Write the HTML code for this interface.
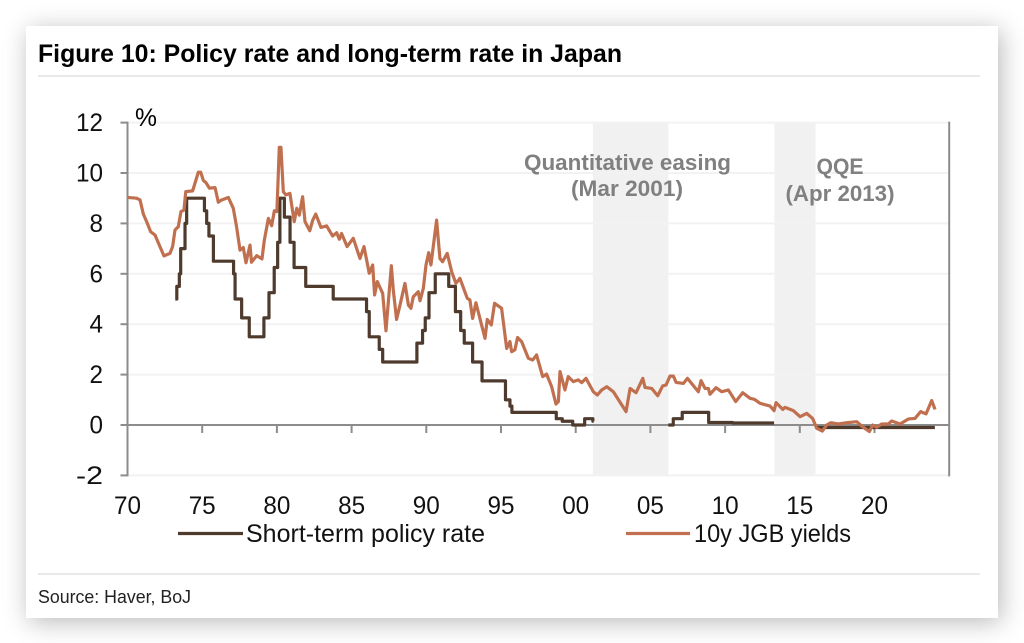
<!DOCTYPE html>
<html lang="en">
<head>
<meta charset="utf-8">
<title>Figure 10: Policy rate and long-term rate in Japan</title>
<style>
html,body{margin:0;padding:0;background:#fff;width:1024px;height:643px;overflow:hidden}
#card{position:absolute;left:26px;top:26px;width:972px;height:592px;background:#fff;box-shadow:3px 4px 24px rgba(0,0,0,.28)}
svg{position:absolute;left:0;top:0;font-family:"Liberation Sans",sans-serif}
</style>
</head>
<body>
<div id="card"></div>
<svg id="chart" width="1024" height="643" viewBox="0 0 1024 643">
  <text x="38" y="62" font-size="25" font-weight="700" fill="#000" textLength="584" lengthAdjust="spacingAndGlyphs">Figure 10: Policy rate and long-term rate in Japan</text>
  <line x1="38" y1="76" x2="980" y2="76" stroke="#e2e2e2" stroke-width="1.5"/>
  <g id="bands"></g>
  <g id="grid"></g>
  <g id="annotations" font-weight="700" font-size="22" fill="#808080" text-anchor="middle">
    <text x="627.5" y="170" textLength="207" lengthAdjust="spacingAndGlyphs">Quantitative easing</text>
    <text x="627" y="196" textLength="112" lengthAdjust="spacingAndGlyphs">(Mar 2001)</text>
    <text x="840" y="174" textLength="47" lengthAdjust="spacingAndGlyphs">QQE</text>
    <text x="840" y="201" textLength="109" lengthAdjust="spacingAndGlyphs">(Apr 2013)</text>
  </g>
  <g id="axes"></g>
  <g id="series"></g>
  <text x="135" y="126" font-size="25" fill="#000" textLength="22" lengthAdjust="spacingAndGlyphs">%</text>
  <g id="legend" font-size="25" fill="#111">
    <line x1="178" y1="533.5" x2="243" y2="533.5" stroke="#4f3b2e" stroke-width="3.2"/>
    <text x="246" y="542" textLength="239" lengthAdjust="spacingAndGlyphs">Short-term policy rate</text>
    <line x1="626" y1="533.5" x2="690" y2="533.5" stroke="#c1704f" stroke-width="3.2"/>
    <text x="694" y="542" textLength="157" lengthAdjust="spacingAndGlyphs">10y JGB yields</text>
  </g>
  <line x1="38" y1="574" x2="980" y2="574" stroke="#e2e2e2" stroke-width="1.5"/>
  <text x="38" y="603" font-size="18" fill="#222" textLength="153" lengthAdjust="spacingAndGlyphs">Source: Haver, BoJ</text>
</svg>
<script>
const yTicks = [12, 10, 8, 6, 4, 2, 0, -2];
const xTickYears = [1970, 1975, 1980, 1985, 1990, 1995, 2000, 2005, 2010, 2015, 2020];
const xTickLabels = ['70', '75', '80', '85', '90', '95', '00', '05', '10', '15', '20'];
const bandStarts = [2001.15, 2013.3];
const bandEnds = [2006.2, 2016.05];

const policyDates = [1973.2,1973.3,1973.47,1973.56,1973.85,1973.96,1975.15,1975.3,1975.45,1975.75,1977.1,1977.2,1977.64,1978.15,1979.13,1979.47,1979.82,1980.05,1980.2,1980.5,1980.88,1981.15,1981.93,1983.77,1986.0,1986.18,1986.85,1987.08,1989.37,1989.75,1989.93,1990.18,1990.6,1991.5,1991.95,1992.3,1992.54,1993.1,1993.73,1995.3,1995.6,1995.73,1998.7,1999.1,1999.8,2000.6,2001.15,2001.2,2006.2,2006.53,2007.13,2008.9,2010.5,2013.27,2013.28,2016.1,2024.04];
const policyRates = [5,5.5,6,7,8,9,8.5,8,7.5,6.5,6,5,4.25,3.5,4.25,5.25,6.25,7.25,9,8.25,7.25,6.25,5.5,5,4.5,3.5,3,2.5,3.25,3.75,4.25,5.25,6,5.5,4.5,3.75,3.25,2.5,1.75,1,0.75,0.5,0.25,0.15,0,0.25,0.15,null,0,0.25,0.5,0.1,0.08,0.08,null,-0.1,-0.1];

const yieldDates = [1970,1970.6,1970.84,1971.06,1971.28,1971.55,1971.84,1972.13,1972.44,1972.84,1973.02,1973.18,1973.4,1973.58,1973.78,1973.9,1974.36,1974.74,1974.9,1975.08,1975.25,1975.48,1975.86,1976.08,1976.3,1976.75,1977.08,1977.3,1977.53,1977.75,1977.93,1978.2,1978.3,1978.65,1979,1979.16,1979.43,1979.65,1979.83,1980,1980.16,1980.27,1980.43,1980.6,1980.87,1981.16,1981.33,1981.5,1981.72,1981.88,1982.2,1982.4,1982.6,1982.95,1983.33,1983.73,1984,1984.18,1984.33,1984.7,1985.11,1985.56,1985.83,1986.18,1986.41,1986.54,1986.72,1987.08,1987.3,1987.66,1987.79,1988.01,1988.24,1988.57,1988.8,1988.97,1989.13,1989.46,1989.58,1989.8,1989.98,1990.16,1990.31,1990.69,1990.91,1991.09,1991.4,1991.7,1991.98,1992.25,1992.74,1992.92,1993.1,1993.32,1993.93,1994.08,1994.35,1994.57,1995.04,1995.38,1995.6,1995.71,1995.93,1996.11,1996.38,1996.83,1997.12,1997.38,1997.79,1998.05,1998.39,1998.68,1998.84,1998.95,1999.28,1999.5,1999.84,2000.17,2000.4,2000.69,2001.18,2001.45,2001.74,2002.08,2002.52,2003.37,2003.64,2004.04,2004.49,2004.64,2005.09,2005.49,2005.82,2006.05,2006.31,2006.54,2006.72,2007.21,2007.48,2008.21,2008.39,2008.66,2008.88,2008.99,2009.39,2009.77,2010.22,2010.71,2011.18,2011.67,2011.96,2012.34,2013.01,2013.28,2013.41,2013.86,2014.01,2014.57,2015.02,2015.46,2015.86,2016.13,2016.51,2016.8,2017.07,2017.58,2018.14,2018.81,2019.14,2019.66,2019.88,2020.15,2020.48,2020.93,2021.15,2021.71,2022.27,2022.71,2023.09,2023.45,2023.83,2024.05];
const yieldValues = [9.03,9,8.93,8.37,8.07,7.67,7.54,7.14,6.71,6.81,7.08,7.74,7.87,8.47,8.53,9.26,9.29,10.03,10.03,9.7,9.62,9.4,9.42,8.84,8.93,9.03,8.6,7.87,6.94,7.04,6.44,7.14,6.46,6.72,6.59,7.34,8.2,7.91,8.5,8.47,11.02,11.02,9.26,9.13,9.19,8.07,8.6,8.33,9.06,8.07,7.71,8.13,8.37,7.84,7.9,7.5,7.63,7.37,7.6,7.08,7.41,6.61,7.08,6.02,6.35,5.16,5.69,5.22,3.74,6.32,5.36,4.19,4.76,5.62,4.76,4.63,5.09,5.29,4.93,5.42,6.35,6.84,6.35,8.13,6.61,6.48,6.81,6.08,5.62,5.82,5.03,4.96,4.23,4.85,3.44,4.19,3.97,4.83,4.63,3.04,3.31,2.91,2.98,3.47,3.31,2.65,2.58,2.78,1.92,2.02,1.52,0.83,0.93,2.12,1.39,1.92,1.72,1.79,1.68,1.85,1.32,1.19,1.39,1.52,1.32,0.53,1.45,1.28,1.85,1.49,1.45,1.16,1.55,1.59,1.94,1.94,1.69,1.65,1.85,1.32,1.76,1.45,1.45,1.22,1.48,1.32,1.39,0.93,1.28,1.06,1.02,0.86,0.75,0.57,0.89,0.62,0.7,0.57,0.33,0.46,0.26,-0.13,-0.24,0,0.09,0.04,0.09,0.13,-0.04,-0.26,0,-0.09,0.04,0.04,0.16,0.04,0.24,0.26,0.53,0.44,0.97,0.62];

const NS = 'http://www.w3.org/2000/svg';
const xScale = function (year) { return 127.5 + (year - 1970) * 14.94; };
const yScale = function (v) { return 425 - v * 25.2; };
const make = function (parent, tag, attrs) {
  const el = document.createElementNS(NS, tag);
  for (const k in attrs) el.setAttribute(k, attrs[k]);
  document.getElementById(parent).appendChild(el);
  return el;
};

bandStarts.forEach(function (start, i) {
  const band = make('bands', 'rect', { x: xScale(start), y: yScale(12), width: xScale(bandEnds[i]) - xScale(start), height: yScale(-2) - yScale(12), fill: '#f1f1f1' });
  
  
});

yTicks.forEach(function (t) {
  if (t !== 0) {
    const g = make('grid', 'line', { x1: xScale(1970), x2: xScale(2025), y1: yScale(t), y2: yScale(t), stroke: '#f2f2f2', 'stroke-width': 2 });
    
    
  }
  const tick = make('axes', 'line', { x1: xScale(1970) - 7, x2: xScale(1970), y1: yScale(t), y2: yScale(t), stroke: '#8c8c8c', 'stroke-width': 2 });
  
  
  const text = String(t);
  const label = make('axes', 'text', { x: 103, y: yScale(t) + 8.5, 'text-anchor': 'end', 'font-size': 25, fill: '#111', textLength: text.length * 13.5, lengthAdjust: 'spacingAndGlyphs' });
  label.textContent = text;
  
  
});

const leftAxis = make('axes', 'line', { x1: xScale(1970), x2: xScale(1970), y1: yScale(12) - 1, y2: yScale(-2) + 1, stroke: '#8c8c8c', 'stroke-width': 2 });


const rightAxis = make('axes', 'line', { x1: xScale(2025), x2: xScale(2025), y1: yScale(12) - 1, y2: yScale(-2) + 1, stroke: '#8c8c8c', 'stroke-width': 2 });


const zeroAxis = make('axes', 'line', { x1: xScale(1970), x2: xScale(2025), y1: yScale(0), y2: yScale(0), stroke: '#8c8c8c', 'stroke-width': 2 });



xTickYears.forEach(function (yr, i) {
  const tick = make('axes', 'line', { x1: xScale(yr), x2: xScale(yr), y1: yScale(0), y2: yScale(0) + 8, stroke: '#8c8c8c', 'stroke-width': 2 });
  
  
  const label = make('axes', 'text', { x: xScale(yr), y: 514, 'text-anchor': 'middle', 'font-size': 25, fill: '#111', textLength: 27, lengthAdjust: 'spacingAndGlyphs' });
  label.textContent = xTickLabels[i];
  
  
});

let yieldPath = '';
yieldDates.forEach(function (d, i) {
  yieldPath += (i ? 'L' : 'M') + xScale(d).toFixed(2) + ' ' + yScale(yieldValues[i]).toFixed(2);
});

let policyPath = '';
let penDown = false;
policyDates.forEach(function (d, i) {
  const v = policyRates[i];
  if (v === null) {
    if (penDown) policyPath += 'L' + xScale(d).toFixed(2) + ' ' + yScale(policyRates[i - 1]).toFixed(2);
    penDown = false;
    return;
  }
  if (penDown) policyPath += 'L' + xScale(d).toFixed(2) + ' ' + yScale(policyRates[i - 1]).toFixed(2);
  policyPath += (penDown ? 'L' : 'M') + xScale(d).toFixed(2) + ' ' + yScale(v).toFixed(2);
  penDown = true;
});

const policyLine = make('series', 'path', { d: policyPath, fill: 'none', stroke: '#4f3b2e', 'stroke-width': 3.2, 'stroke-linejoin': 'round' });


const yieldLine = make('series', 'path', { d: yieldPath, fill: 'none', stroke: '#c1704f', 'stroke-width': 3.2, 'stroke-linejoin': 'round' });


</script>
</body>
</html>
